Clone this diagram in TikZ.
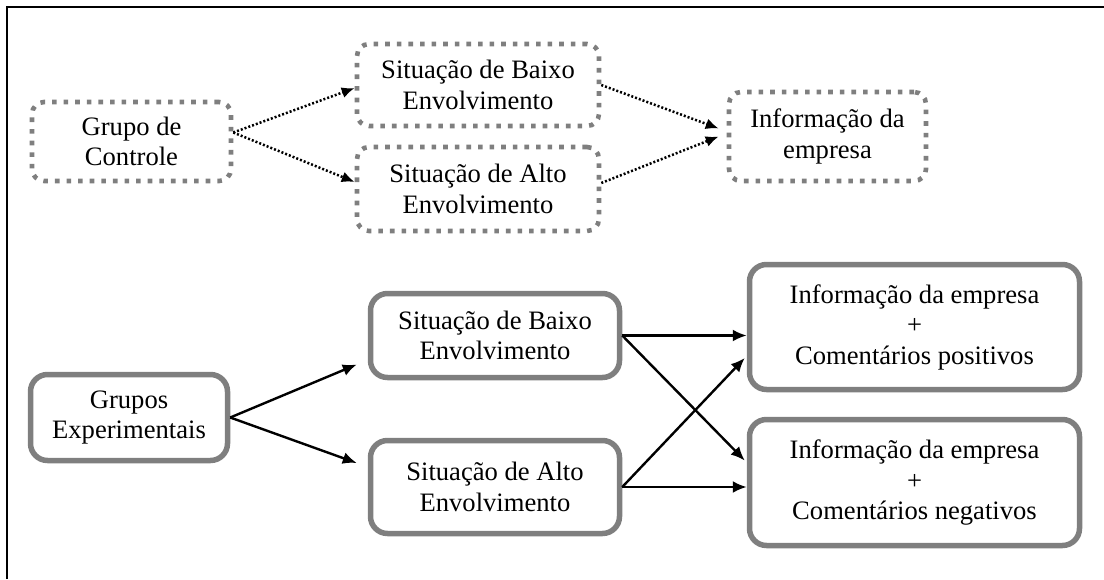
\documentclass[tikz,border=0pt]{standalone}
\usepackage{fontspec}
\setmainfont{Liberation Serif}
\usetikzlibrary{arrows.meta,calc}
\definecolor{boxgray}{HTML}{7F7F7F}
\begin{document}
\begin{tikzpicture}[x=1pt,y=-1pt,
  txt/.style={font=\fontsize{26.6}{30.5}\selectfont, align=center, inner sep=0pt, text=black},
  dotbox/.style={txt, draw=boxgray, line width=4.6pt, dash pattern=on 4.6pt off 7pt, rounded corners=12pt},
  solidbox/.style={txt, draw=boxgray, line width=5.5pt, rounded corners=17pt},
  dotarrow/.style={draw=black, line width=2.5pt, dash pattern=on 2pt off 2pt, -{Latex[length=13pt,width=11pt]}},
  solidarrow/.style={draw=black, line width=2.4pt, -{Latex[length=14pt,width=12pt]}}
]
\useasboundingbox (0,0) rectangle (1104,579);
\draw[line width=2.6pt] (7,579) -- (7,7) -- (1104,7);

% control group (dotted)
\node[dotbox, minimum width=199pt, minimum height=79pt] (ctrl) at (131.5,141.5) {Grupo de\\Controle};
\node[dotbox, minimum width=242pt, minimum height=82pt] (cbaixo) at (478,85) {Situação de Baixo\\Envolvimento};
\node[dotbox, minimum width=242pt, minimum height=84pt] (calto) at (478,189) {Situação de Alto\\Envolvimento};
\node[dotbox, minimum width=197pt, minimum height=89pt] (cinfo) at (827.5,136.5) {Informação da\\empresa};

\draw[dotarrow] ([yshift=9pt]ctrl.east) -- ([yshift=-3pt]cbaixo.west);
\draw[dotarrow] ([yshift=9pt]ctrl.east) -- ([yshift=7pt]calto.west);
\draw[dotarrow] (cbaixo.east) -- ([xshift=-8pt,yshift=8pt]cinfo.west);
\draw[dotarrow] ([yshift=6pt]calto.east) -- ([xshift=-8pt,yshift=0pt]cinfo.west);

% experimental groups (solid)
\node[solidbox, minimum width=197pt, minimum height=86pt] (gexp) at (129,417.5) {Grupos\\Experimentais};
\node[solidbox, minimum width=249pt, minimum height=84pt] (sbaixo) at (495,335.5) {Situação de Baixo\\Envolvimento};
\node[solidbox, minimum width=249pt, minimum height=93pt] (salto) at (495,487) {Situação de Alto\\Envolvimento};
\node[solidbox, minimum width=330pt, minimum height=125pt] (ipos) at (914.5,327) {Informação da empresa\\+\\Comentários positivos};
\node[solidbox, minimum width=330pt, minimum height=126pt] (ineg) at (914.5,482.5) {Informação da empresa\\+\\Comentários negativos};

\draw[solidarrow] (gexp.east) -- ([xshift=-11pt,yshift=-29pt]sbaixo.west);
\draw[solidarrow] (gexp.east) -- ([xshift=-11pt,yshift=24pt]salto.west);
\draw[solidarrow] (sbaixo.east) -- (sbaixo.east -| ipos.west);
\draw[solidarrow] (sbaixo.east) -- ([xshift=-2pt,yshift=22pt]ineg.west);
\draw[solidarrow] (salto.east) -- (salto.east -| ineg.west);
\draw[solidarrow] (salto.east) -- ([xshift=-2pt,yshift=-31pt]ipos.west);
\end{tikzpicture}
\end{document}
